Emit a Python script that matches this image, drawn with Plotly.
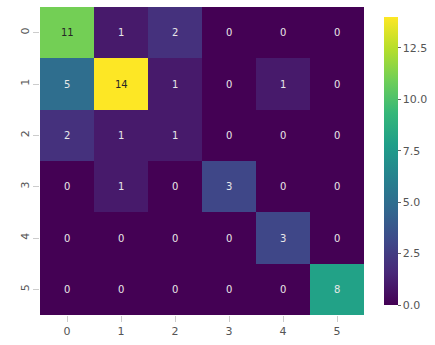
import plotly.graph_objects as go

labels = ["0", "1", "2", "3", "4", "5"]
matrix = [
    [11, 1, 2, 0, 0, 0],
    [5, 14, 1, 0, 1, 0],
    [2, 1, 1, 0, 0, 0],
    [0, 1, 0, 3, 0, 0],
    [0, 0, 0, 0, 3, 0],
    [0, 0, 0, 0, 0, 8],
]
cbar_ticks = [0.0, 2.5, 5.0, 7.5, 10.0, 12.5]

fig = go.Figure(go.Heatmap(
    z=matrix,
    x=labels,
    y=labels,
    colorscale="Viridis",
    zmin=0,
    zmax=14,
    showscale=True,
    colorbar=dict(
        x=1.0615, xanchor="left", xpad=0,
        y=0.5, yanchor="middle", len=1.0, lenmode="fraction",
        thickness=14, outlinewidth=0,
        tickvals=cbar_ticks,
        ticktext=[f"{v:.1f}" for v in cbar_ticks],
        ticks="outside", ticklen=3, tickcolor="#666",
        tickfont=dict(family="DejaVu Sans", size=11, color="#555"),
    ),
    hoverinfo="skip",
))

# cell annotations: dark text on bright cells, light text elsewhere
for i, row in enumerate(matrix):
    for j, v in enumerate(row):
        fig.add_annotation(
            x=labels[j], y=labels[i], text=str(v), showarrow=False,
            font=dict(family="DejaVu Sans", size=10,
                      color="#262626" if v >= 9 else "#e8e8e8"),
        )

fig.update_xaxes(
    showgrid=False, zeroline=False, ticks="outside", ticklen=6,
    tickcolor="#ccc", tickfont=dict(family="DejaVu Sans", size=11, color="#555"),
)
fig.update_yaxes(
    autorange="reversed", showgrid=False, zeroline=False,
    ticks="outside", ticklen=6, tickcolor="#ccc", tickangle=-90,
    tickfont=dict(family="DejaVu Sans", size=11, color="#555"),
)
fig.update_layout(
    width=435, height=345,
    margin=dict(l=40, r=70, t=7, b=22),
    paper_bgcolor="white", plot_bgcolor="white",
)

fig.write_html("out.html")
